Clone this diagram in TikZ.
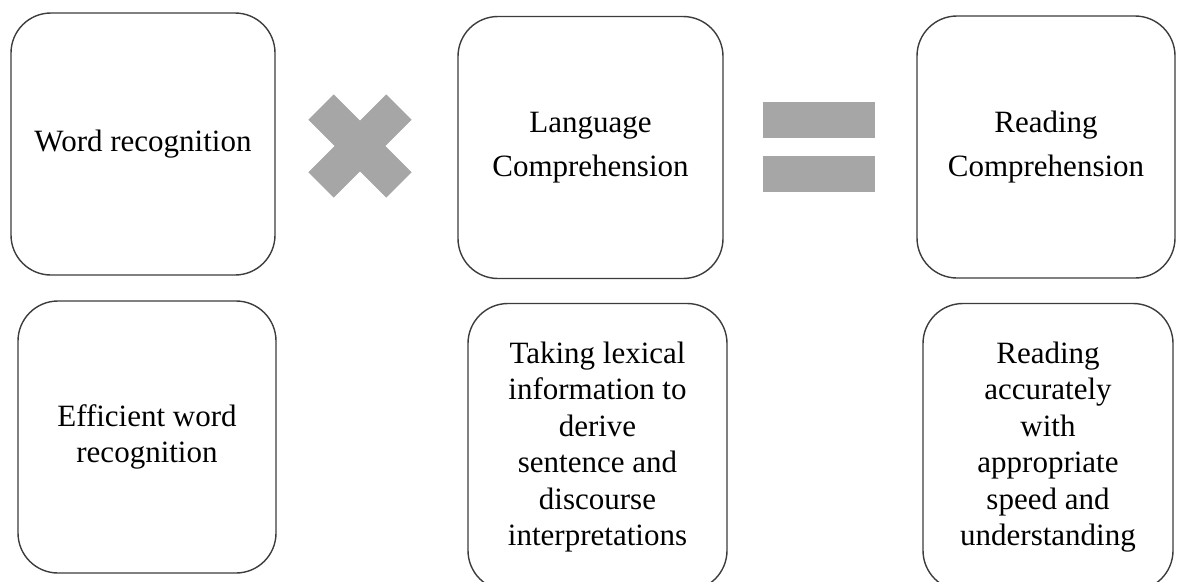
\documentclass[tikz,border=0pt]{standalone}
\usepackage{fontspec}
\setmainfont{Liberation Serif}
\definecolor{cinzaSimbolo}{RGB}{166,166,166}
\definecolor{bordaCaixa}{RGB}{60,60,60}

\begin{document}
\begin{tikzpicture}[
    x=1pt, y=-1pt,
    every node/.style={font=\fontsize{31}{36.5}\selectfont, align=center},
    topbox/.style={draw=bordaCaixa, line width=1.4pt, fill=white, rounded corners=40pt, inner sep=0pt, minimum height=262pt},
    descbox/.style={draw=bordaCaixa, line width=1.4pt, fill=white, rounded corners=40pt, inner sep=0pt},
    widelines/.style={font=\fontsize{31}{44}\selectfont},
    symbar/.style={fill=cinzaSimbolo, inner sep=0pt, minimum height=36pt}
]

    % Area da figura
    \useasboundingbox (0, 0) rectangle (1177, 581);

    % Caixas de cima
    \node[topbox, minimum width=264pt] (wordrec) at (143, 144) {Word recognition};
    \node[topbox, widelines, minimum width=265pt] (langcomp) at (590.5, 147.5) {Language\\Comprehension};
    \node[topbox, widelines, minimum width=258pt] (readcomp) at (1046, 147) {Reading\\Comprehension};

    % Sinal de vezes
    \node[symbar, minimum width=110pt, rotate=45] (timesA) at (360, 146) {};
    \node[symbar, minimum width=110pt, rotate=-45] (timesB) at (360, 146) {};

    % Sinal de igual
    \node[symbar, minimum width=112pt] (eqtop) at (819, 120) {};
    \node[symbar, minimum width=112pt] (eqbot) at (819, 174) {};

    % Caixas de baixo
    \node[descbox, minimum width=258pt, minimum height=272pt] (wordrecdesc) at (147, 437) {Efficient word\\recognition};
    \node[descbox, minimum width=259pt, minimum height=287pt] (langdesc) at (597.5, 447) {Taking lexical\\information to\\derive\\sentence and\\discourse\\interpretations};
    \node[descbox, minimum width=250pt, minimum height=287pt] (readdesc) at (1048, 447) {Reading\\accurately\\with\\appropriate\\speed and\\understanding};

\end{tikzpicture}
\end{document}
